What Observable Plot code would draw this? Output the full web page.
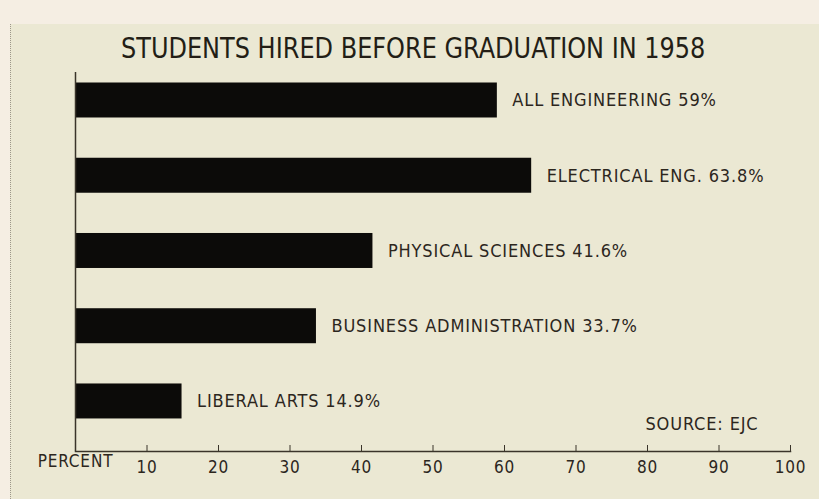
<!DOCTYPE html>
<html>
<head>
<meta charset="utf-8">
<script src="https://cdn.jsdelivr.net/npm/d3@7"></script>
<script src="https://cdn.jsdelivr.net/npm/@observablehq/plot@0.6"></script>
<style>
  html, body { margin: 0; padding: 0; }
  body { width: 819px; height: 499px; overflow: hidden; background: #f5eee3; }
  #page { position: relative; width: 819px; height: 499px; }
  #card { position: absolute; left: 10px; top: 24px; right: 0; bottom: 0; background: #ebe8d3; border-left: 1px dotted #9d978a; }
  #title { position: absolute; left: 121px; top: 34px; font-family: "Liberation Sans Narrow", "DejaVu Sans Condensed", sans-serif; font-size: 29px; line-height: 29px; color: #231e16; letter-spacing: 0px; white-space: nowrap; transform: scaleX(0.92); transform-origin: 0 0; }
  #chart { position: absolute; left: 0; top: 62px; }
  #chart text { letter-spacing: 0.85px; }
</style>
</head>
<body>
<div id="page">
  <div id="card"></div>
  <div id="title">STUDENTS HIRED BEFORE GRADUATION IN 1958</div>
  <div id="chart"></div>
</div>
<script>
const categories = ["ALL ENGINEERING", "ELECTRICAL ENG.", "PHYSICAL SCIENCES", "BUSINESS ADMINISTRATION", "LIBERAL ARTS"];
const values = [59, 63.8, 41.6, 33.7, 14.9];
const xTicks = [10, 20, 30, 40, 50, 60, 70, 80, 90, 100];
const axisLabel = "PERCENT";
const sourceNote = "SOURCE: EJC";

const data = categories.map((c, i) => ({category: c, value: values[i]}));
const FONT = '"Liberation Sans Narrow", "DejaVu Sans Condensed", sans-serif';
const INK = "#2c261d";

const chart = Plot.plot({
  width: 819,
  height: 437,
  marginTop: 10,
  marginBottom: 48,
  marginLeft: 75,
  marginRight: 29,
  style: {background: "transparent", fontFamily: FONT, color: INK, overflow: "visible"},
  x: {domain: [0, 100], axis: null},
  y: {domain: categories, axis: null, paddingInner: 0.535, paddingOuter: 0.286, align: 0.244, round: false},
  marks: [
    Plot.barX(data, {x: "value", y: "category", fill: "#0c0b09"}),
    Plot.text(data, {x: "value", y: "category", text: d => `${d.category} ${d.value}%`, textAnchor: "start", dx: 15, fontSize: 18, fill: INK}),
    Plot.ruleX([0], {stroke: "#3a342a", strokeWidth: 1.5}),
    Plot.frame({anchor: "bottom", stroke: "#3a342a", strokeWidth: 1.5}),
    Plot.axisX(xTicks, {anchor: "bottom", label: null, tickSize: -6, tickPadding: 15, fontSize: 17, stroke: "#3a342a", fill: INK}),
    Plot.text([axisLabel], {frameAnchor: "bottom-left", textAnchor: "middle", dx: 0, dy: 15, fontSize: 17, fill: INK}),
    Plot.text([sourceNote], {frameAnchor: "bottom-right", textAnchor: "end", dx: -32, dy: -22, fontSize: 18, fill: INK})
  ]
});
document.getElementById("chart").appendChild(chart);
</script>
</body>
</html>
